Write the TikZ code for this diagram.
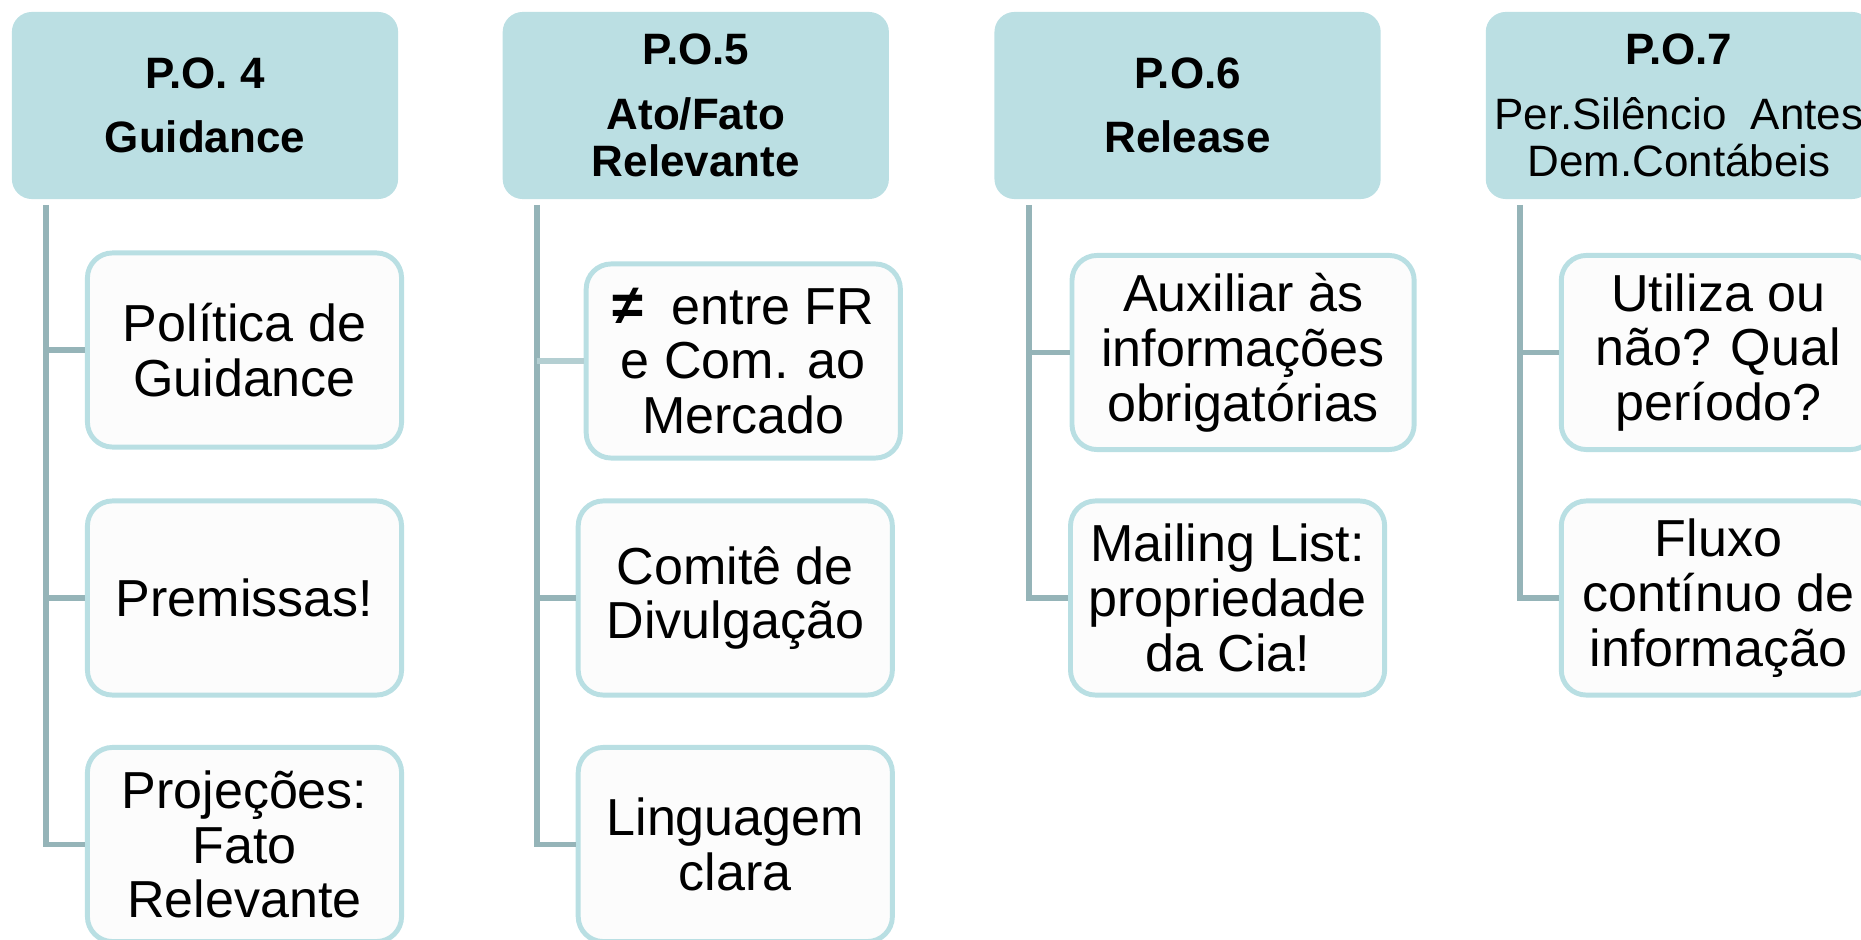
\documentclass[tikz,border=0pt]{standalone}
\usepackage{fontspec}
\setmainfont{Liberation Sans}

\definecolor{headfill}{HTML}{BBDFE3}
\definecolor{leafline}{HTML}{B9DFE3}
\definecolor{leaffill}{HTML}{FCFCFC}
\definecolor{linkgray}{HTML}{95B4B8}
\definecolor{linklight}{HTML}{B4CFD2}

\tikzset{
	head/.style = {fill=headfill, rounded corners=0.2cm, inner sep=0pt,
		minimum width=3.86cm, minimum height=1.87cm, align=center,
		font=\fontsize{12.5}{13.4}\selectfont\bfseries},
	leaf/.style = {draw=leafline, line width=1.4pt, fill=leaffill, rounded corners=0.25cm,
		inner sep=0pt, minimum width=3.14cm, minimum height=1.94cm, align=center,
		font=\fontsize{14.8}{15.6}\selectfont},
	link/.style = {draw=linkgray, line width=1.7pt},
}

\begin{document}
\begin{tikzpicture}[x = 0.01cm, y = -0.01cm]
	\useasboundingbox (0,0) rectangle (1861,940);

	% P.O. 4
	\node[head] (h4) at (205,105.5) {P.O. 4\\[5pt]Guidance};
	\node[leaf] (c4a) at (244.5,350) {Política de\\Guidance};
	\node[leaf] (c4b) at (244.5,598) {Premissas!};
	\node[leaf] (c4c) at (244.5,844.5) {Projeções:\\Fato\\Relevante};
	\coordinate (t4) at ([xshift=0.35cm, yshift=-0.05cm]h4.south west);
	\draw[link] (t4) |- (c4c.west);
	\draw[link] (t4 |- c4a.west) -- (c4a.west);
	\draw[link] (t4 |- c4b.west) -- (c4b.west);

	\begin{scope}[xshift=4.905cm]
		% P.O. 5
		\node[head] (h5) at (205,105.5) {P.O.5\\[5pt]Ato/Fato\\Relevante};
		\node[leaf] (c5a) at (252.5,361) {{\bfseries\fontsize{16}{15.6}\selectfont ≠}\ \ entre FR\\e Com. ao\\Mercado};
		\node[leaf] (c5b) at (244.5,598) {Comitê de\\Divulgação};
		\node[leaf] (c5c) at (244.5,844.5) {Linguagem\\clara};
		\coordinate (t5) at ([xshift=0.35cm, yshift=-0.05cm]h5.south west);
		\draw[link] (t5) |- (c5c.west);
		\draw[link, draw=linklight] (t5 |- c5a.west) -- (c5a.west);
		\draw[link] (t5 |- c5b.west) -- (c5b.west);
	\end{scope}

	\begin{scope}[xshift=9.82cm]
		% P.O. 6
		\node[head] (h6) at (205,105.5) {P.O.6\\[5pt]Release};
		\node[leaf, minimum width=3.42cm] (c6a) at (260.5,352.5) {Auxiliar às\\informações\\obrigatórias};
		\node[leaf] (c6b) at (245,598) {Mailing List:\\propriedade\\da Cia!};
		\coordinate (t6) at ([xshift=0.35cm, yshift=-0.05cm]h6.south west);
		\draw[link] (t6) |- (c6b.west);
		\draw[link] (t6 |- c6a.west) -- (c6a.west);
	\end{scope}

	\begin{scope}[xshift=14.73cm]
		% P.O. 7
		\node[head] (h7) at (205,105.5) {P.O.7\\[5pt]\mdseries Per.Silêncio\ \ Antes\\\mdseries Dem.Contábeis};
		\node[leaf] (c7a) at (244.5,352.5) {Utiliza ou\\não? Qual\\período?};
		\node[leaf] (c7b) at (244.5,598) {Fluxo\\contínuo de\\informação};
		\coordinate (t7) at ([xshift=0.35cm, yshift=-0.05cm]h7.south west);
		\draw[link] (t7) |- (c7b.west);
		\draw[link] (t7 |- c7a.west) -- (c7a.west);
	\end{scope}

\end{tikzpicture}
\end{document}
